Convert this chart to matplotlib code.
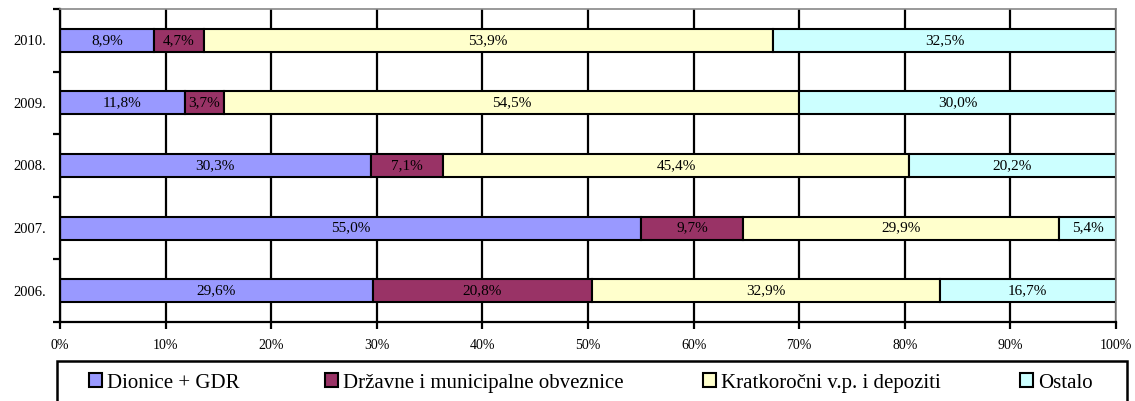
import numpy as np
import matplotlib
matplotlib.use("Agg")
import matplotlib.pyplot as plt
from matplotlib.patches import Rectangle

plt.rcParams["font.family"] = ["Liberation Serif", "DejaVu Serif"]

years = ["2006.", "2007.", "2008.", "2009.", "2010."]
series = ["Dionice + GDR", "Državne i municipalne obveznice",
          "Kratkoročni v.p. i depoziti", "Ostalo"]
dionice = [29.6, 55.0, 30.3, 11.8, 8.9]
drzavne = [20.8, 9.7, 7.1, 3.7, 4.7]
kratkorocni = [32.9, 29.9, 45.4, 54.5, 53.9]
ostalo = [16.7, 5.4, 20.2, 30.0, 32.5]
colors = ["#9999FF", "#993366", "#FFFFCC", "#CCFFFF"]

W, H = 1135, 401
fig = plt.figure(figsize=(W / 100, H / 100), dpi=100)
ax = fig.add_axes([60 / W, 1 - 322 / H, (1116 - 60) / W, (322 - 9) / H])

data = np.array([dionice, drzavne, kratkorocni, ostalo])
totals = data.sum(axis=0)
shares = data / totals * 100   # 100% stacked, like Excel
y = np.arange(len(years))

ax.set_axisbelow(True)
ax.xaxis.grid(True, color="black", lw=1.6)
left = np.zeros(len(years))
bars = []
for i, name in enumerate(series):
    b = ax.barh(y, shares[i], left=left, height=0.37, color=colors[i],
                edgecolor="black", lw=1.5, label=name)
    bars.append(b)
    for j in range(len(years)):
        txt = f"{data[i, j]:.1f}%".replace(".", ",")
        ax.text(left[j] + shares[i, j] / 2, y[j], txt, ha="center",
                va="center", fontsize=11)
    left += shares[i]

ax.set_xlim(0, 100)
ax.set_ylim(-0.5, len(years) - 0.5)
ax.set_xticks(np.arange(0, 101, 10))
ax.set_xticklabels([f"{v}%" for v in range(0, 101, 10)], fontsize=10)
ax.set_yticks(y)
ax.set_yticklabels(years, fontsize=10.5)
ax.set_yticks(np.arange(-0.5, len(years), 1), minor=True)
ax.tick_params(axis="y", which="major", length=0, pad=10)
ax.tick_params(axis="y", which="minor", length=5, width=1.6)
ax.tick_params(axis="x", length=5, width=1.6, pad=7)
for s in ("left", "bottom"):
    ax.spines[s].set_linewidth(1.6)
    ax.spines[s].set_color("black")
for s in ("top", "right"):
    ax.spines[s].set_color("#888888")
    ax.spines[s].set_linewidth(1.2)

# legend frame (bottom runs off the image)
fig.patches.append(Rectangle((57 / W, -0.05), (1127 - 57) / W,
                             0.05 + 1 - 361 / H, transform=fig.transFigure,
                             fill=False, edgecolor="black", lw=1.8))
# Excel spaces the legend entries unevenly, so place each one
marker_x = [89, 325, 703, 1020]
for b, name, mx in zip(bars, series, marker_x):
    fig.legend([b], [name], loc="center left",
               bbox_to_anchor=(mx / W, 1 - 383 / H), frameon=False,
               fontsize=15, handlelength=0.62, handleheight=0.62,
               handletextpad=0.25, borderaxespad=0, borderpad=0)

fig.savefig("out.png", dpi=100)
